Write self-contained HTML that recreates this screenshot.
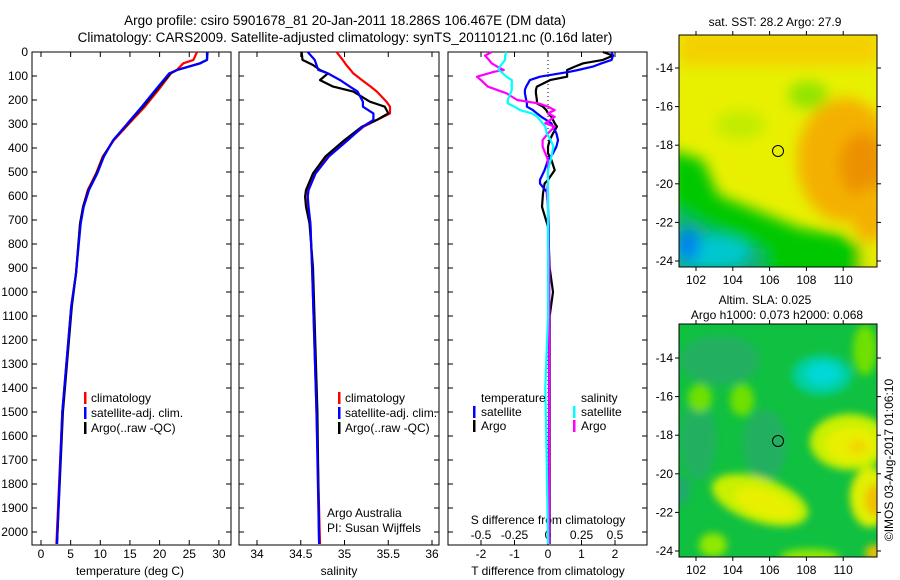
<!DOCTYPE html>
<html><head><meta charset="utf-8">
<style>
body{margin:0;background:#fff;}
svg{display:block;font-family:"Liberation Sans",sans-serif;}
text{fill:#000;}
</style></head>
<body>
<svg id="c" width="900" height="580" viewBox="0 0 900 580" xmlns="http://www.w3.org/2000/svg">
<defs>
<filter id="bl" x="-50%" y="-50%" width="200%" height="200%"><feGaussianBlur stdDeviation="7"/></filter>
<filter id="bl2" x="-50%" y="-50%" width="200%" height="200%"><feGaussianBlur stdDeviation="4"/></filter>
<clipPath id="m1"><rect x="679" y="35" width="198" height="232"/></clipPath>
<clipPath id="m2"><rect x="679" y="324" width="198" height="233"/></clipPath>
</defs>
<text x="345" y="25" font-size="13.5" text-anchor="middle">Argo profile: csiro 5901678_81 20-Jan-2011 18.286S 106.467E (DM data)</text>
<text x="345" y="42" font-size="13.5" text-anchor="middle">Climatology: CARS2009. Satellite-adjusted climatology: synTS_20110121.nc (0.16d later)</text>

<!-- SST map -->
<g clip-path="url(#m1)">
<rect x="679" y="35" width="198" height="232" fill="#e8f000"/>
<g filter="url(#bl)">
<rect x="679" y="30" width="200" height="35" fill="#f4d000"/>
<ellipse cx="845" cy="160" rx="48" ry="62" fill="#f4b000"/>
<ellipse cx="862" cy="165" rx="22" ry="32" fill="#ec9000"/>
<ellipse cx="870" cy="215" rx="18" ry="28" fill="#f4b000"/>
<ellipse cx="808" cy="95" rx="20" ry="14" fill="#90e400"/>
<ellipse cx="740" cy="125" rx="25" ry="14" fill="#c0ec00"/>
<polygon points="670,150 703,160 718,195 760,212 800,228 840,234 862,248 862,290 670,290" fill="#00c800"/>
<polygon points="670,205 700,222 740,243 765,250 765,290 670,290" fill="#10b070"/>
<ellipse cx="712" cy="252" rx="38" ry="16" fill="#00c8d0"/>
<ellipse cx="688" cy="245" rx="12" ry="16" fill="#0080f0"/>
<ellipse cx="875" cy="262" rx="14" ry="12" fill="#e8e800"/>
</g>
</g>
<rect x="679" y="35" width="198" height="232" fill="none" stroke="#000"/>
<circle cx="778" cy="151" r="5.5" fill="none" stroke="#000"/>
<text x="775" y="26" font-size="12" text-anchor="middle">sat. SST: 28.2 Argo: 27.9</text>

<!-- SLA map -->
<g clip-path="url(#m2)">
<rect x="679" y="324" width="198" height="233" fill="#10c040"/>
<g filter="url(#bl2)">
<ellipse cx="720" cy="360" rx="40" ry="25" fill="#20b060"/>
<ellipse cx="765" cy="445" rx="22" ry="35" fill="#20b060"/>
<ellipse cx="698" cy="440" rx="18" ry="40" fill="#20b060"/>
<ellipse cx="822" cy="375" rx="30" ry="20" fill="#00d0a0"/>
<ellipse cx="823" cy="374" rx="17" ry="11" fill="#00d8d8"/>
<ellipse cx="850" cy="442" rx="40" ry="28" fill="#c8f000"/>
<ellipse cx="852" cy="445" rx="26" ry="18" fill="#e8f000"/>
<ellipse cx="858" cy="447" rx="10" ry="8" fill="#f0d800"/>
<ellipse cx="760" cy="500" rx="50" ry="22" fill="#c8f000" transform="rotate(18 760 500)"/>
<ellipse cx="765" cy="503" rx="32" ry="13" fill="#e8f000" transform="rotate(18 765 503)"/>
<ellipse cx="870" cy="497" rx="20" ry="30" fill="#e0f000"/>
<ellipse cx="875" cy="500" rx="10" ry="16" fill="#f0c000"/>
<ellipse cx="700" cy="398" rx="12" ry="14" fill="#70e000"/>
<ellipse cx="742" cy="400" rx="12" ry="16" fill="#70e000"/>
<ellipse cx="713" cy="545" rx="14" ry="12" fill="#90e800"/>
<ellipse cx="865" cy="350" rx="12" ry="25" fill="#70e000"/>
<ellipse cx="875" cy="553" rx="10" ry="8" fill="#f0c000"/>
<ellipse cx="810" cy="557" rx="30" ry="8" fill="#90e800"/>
<ellipse cx="682" cy="490" rx="8" ry="14" fill="#20a870"/>
</g>
</g>
<rect x="679" y="324" width="198" height="233" fill="none" stroke="#000"/>
<circle cx="778" cy="441" r="5.5" fill="none" stroke="#000"/>
<text x="765" y="304" font-size="12" text-anchor="middle">Altim. SLA: 0.025</text>
<text x="777" y="319" font-size="12" text-anchor="middle">Argo h1000: 0.073 h2000: 0.068</text>
<text transform="translate(893,460) rotate(-90)" font-size="12" text-anchor="middle">©IMOS 03-Aug-2017 01:06:10</text>

<g id="plots"></g>
</svg>
<script>
// ---------- data ----------
const tDepth = [0, 33, 47, 75, 89, 158, 228, 297, 367, 436, 506, 575, 645, 714, 923, 1061, 1500, 2050];
const tArgo  = [28.0, 28.0, 26.8, 22.9, 21.8, 19.5, 17.2, 14.7, 12.2, 10.5, 9.4, 8.0, 7.1, 6.6, 5.9, 5.2, 3.7, 2.7];
const tSat   = [28.1, 28.0, 26.9, 23.0, 21.6, 19.3, 17.0, 14.6, 12.2, 10.6, 9.5, 8.1, 7.2, 6.7, 5.9, 5.1, 3.6, 2.7];
const tClim  = [26.3, 25.7, 24.0, 22.9, 21.9, 19.8, 17.5, 14.9, 12.3, 10.4, 9.3, 7.9, 7.1, 6.6, 5.9, 5.1, 3.6, 2.6];

const sDepth = [0, 33, 54, 75, 89, 117, 144, 165, 207, 228, 256, 283, 311, 367, 436, 506, 575, 603, 645, 714, 900, 1500, 2050];
const sClim  = [34.91, 34.98, 35.02, 35.07, 35.10, 35.20, 35.30, 35.37, 35.48, 35.52, 35.52, 35.37, 35.22, 35.03, 34.80, 34.66, 34.58, 34.58, 34.58, 34.61, 34.63, 34.68, 34.72];
const sArgo  = [34.51, 34.52, 34.64, 34.72, 34.81, 34.72, 34.87, 35.10, 35.29, 35.46, 35.50, 35.37, 35.20, 35.00, 34.78, 34.64, 34.56, 34.55, 34.56, 34.60, 34.64, 34.69, 34.71];
const sSat   = [34.58, 34.66, 34.68, 34.70, 34.81, 34.95, 35.06, 35.15, 35.21, 35.21, 35.33, 35.33, 35.21, 35.04, 34.82, 34.67, 34.59, 34.58, 34.59, 34.61, 34.63, 34.68, 34.71];

const dDepth = [0, 15, 33, 47, 61, 75, 82, 103, 117, 144, 158, 172, 200, 214, 228, 242, 256, 270, 297, 311, 339, 367, 394, 422, 450, 492, 533, 548, 589, 645, 728, 900, 1000, 1100, 1400, 1700, 2050];
const dTArgo = [1.64, 1.94, 1.64, 1.05, 0.8, 0.57, 0.57, 0.57, 0.06, -0.33, -0.36, -0.36, -0.33, -0.33, -0.15, -0.05, 0.0, 0.1, 0.2, 0.27, 0.15, 0.05, 0.0, 0.0, 0.1, 0.2, 0.0, -0.1, -0.15, -0.18, 0.0, 0.05, 0.15, 0.05, 0.05, 0.05, 0.05];
const dTSat  = [1.9, 1.94, 1.9, 1.6, 1.34, 0.9, 0.66, -0.24, -0.54, -0.65, -0.69, -0.69, -0.65, -0.63, -0.63, -0.45, -0.33, -0.2, 0.1, 0.15, 0.25, 0.3, 0.25, 0.15, 0.0, -0.1, -0.24, -0.24, 0.0, 0.0, 0.02, 0.03, 0.03, 0.03, 0.03, 0.03, 0.03];
const dSSat  = [-0.31, -0.32, -0.32, -0.34, -0.36, -0.37, -0.35, -0.31, -0.27, -0.27, -0.27, -0.28, -0.3, -0.3, -0.25, -0.21, -0.12, -0.08, -0.04, -0.02, -0.01, 0.02, 0.04, 0.03, 0.02, 0.0, 0.0, 0.0, 0.0, 0.0, 0.0, 0.0, 0.0, 0.0, -0.02, -0.01, 0.0];
const dSArgo = [-0.42, -0.47, -0.44, -0.42, -0.38, -0.33, -0.4, -0.53, -0.5, -0.45, -0.38, -0.31, -0.23, -0.07, 0.0, 0.05, 0.0, 0.05, -0.02, 0.05, 0.0, -0.04, -0.04, -0.02, 0.0, 0.0, 0.0, 0.0, -0.01, 0.0, 0.0, 0.01, 0.01, 0.01, 0.01, 0.01, 0.01];

const depthTicks = [0,100,200,300,400,500,600,700,800,900,1000,1100,1200,1300,1400,1500,1600,1700,1800,1900,2000];
const tTicks = [0,5,10,15,20,25,30];
const sTicks = [34,34.5,35,35.5,36];
const dTTicks = [-2,-1,0,1,2];
const dSTicks = [-0.5,-0.25,0,0.25,0.5];
const dSLabels = ['-0.5','-0.25','0','0.25','0.5'];
const lonTicks = [102,104,106,108,110];
const latTicks = [-14,-16,-18,-20,-22,-24];

// ---------- axis functions ----------
const TOP=52, BOT=545;
const yD = d => TOP + d*0.24;
const xT = t => 41 + t*5.93;
const xS = s => 257 + (s-34)*87.5;
const xDT = v => 548 + v*33.5;
const xDS = v => 548 + v*134;
const xLon = l => 696 + (l-102)*18.4;
const yLat1 = l => 68 + (-14-l)*19.3;
const yLat2 = l => 358 + (-14-l)*19.3;

const NS='http://www.w3.org/2000/svg';
const g=document.getElementById('plots');
function el(tag, at, parent){const e=document.createElementNS(NS,tag);for(const k in at)e.setAttribute(k,at[k]);(parent||g).appendChild(e);return e;}
function txt(x,y,s,anchor,size,name){const e=el('text',{x:x,y:y,'font-size':size||12,'text-anchor':anchor||'middle'});e.textContent=s;


return e;}
function line(xs, ds, fx, color, name){
  const pts = xs.map((v,i)=>fx(v).toFixed(1)+','+yD(ds[i]).toFixed(1)).join(' ');
  const p=el('polyline',{points:pts,fill:'none',stroke:color,'stroke-width':2.2,'stroke-linejoin':'round'});
  
  
}
function frame(x0,x1,name){
  const r=el('rect',{x:x0,y:TOP,width:x1-x0,height:BOT-TOP,fill:'none',stroke:'#000'});
  
  
  depthTicks.forEach(d=>{el('line',{x1:x0,x2:x0+5,y1:yD(d),y2:yD(d),stroke:'#000'});el('line',{x1:x1,x2:x1-5,y1:yD(d),y2:yD(d),stroke:'#000'});});
}
function xticks(vals, f, labels, y, name){
  vals.forEach((v,i)=>{const x=f(v);el('line',{x1:x,x2:x,y1:BOT,y2:BOT-5,stroke:'#000'});el('line',{x1:x,x2:x,y1:TOP,y2:TOP+5,stroke:'#000'});
    txt(x,y,labels?labels[i]:String(v),'middle',12,name);});
}
function legendMark(x,y,color,name){const r=el('rect',{x:x,y:y-10,width:2.5,height:12,fill:color});

}

// panel 1: temperature
frame(32,231,'temperature-panel');
depthTicks.forEach(d=>txt(28,yD(d)+4,String(d),'end',12,'depth-tick-label'));
xticks(tTicks,xT,null,558,'temperature-tick-label');
txt(130,575,'temperature (deg C)','middle',12,'temperature-axis-title');
line(tClim,tDepth,xT,'#f00','temperature-climatology-line');
line(tArgo,tDepth,xT,'#000','temperature-argo-line');
line(tSat,tDepth,xT,'#00f','temperature-satellite-line');
[['#f00','climatology'],['#00f','satellite-adj. clim.'],['#000','Argo(..raw -QC)']].forEach((l,i)=>{
  legendMark(84,402+i*15,l[0],'temperature-legend-marker');txt(91,402+i*15,l[1],'start',12,'temperature-legend-entry');});

// panel 2: salinity
frame(239,439,'salinity-panel');
xticks(sTicks,xS,null,558,'salinity-tick-label');
txt(339,575,'salinity','middle',12,'salinity-axis-title');
line(sClim,sDepth,xS,'#f00','salinity-climatology-line');
line(sArgo,sDepth,xS,'#000','salinity-argo-line');
line(sSat,sDepth,xS,'#00f','salinity-satellite-line');
[['#f00','climatology'],['#00f','satellite-adj. clim.'],['#000','Argo(..raw -QC)']].forEach((l,i)=>{
  legendMark(338,402+i*15,l[0],'salinity-legend-marker');txt(345,402+i*15,l[1],'start',12,'salinity-legend-entry');});
txt(327,517,'Argo Australia','start',12,'credit-argo-australia');
txt(327,532,'PI: Susan Wijffels','start',12,'credit-pi');

// panel 3: differences
frame(448,647,'difference-panel');
xticks(dTTicks,xDT,null,558,'t-diff-tick-label');
dSTicks.forEach((v,i)=>txt(xDS(v),539,dSLabels[i],'middle',12,'s-diff-tick-label'));
txt(548,524,'S difference from climatology','middle',12,'s-diff-axis-title');
txt(548,575,'T difference from climatology','middle',12,'t-diff-axis-title');
for(let y=TOP;y<BOT;y+=4){el('rect',{x:xDT(0)-0.5,y:y,width:1,height:1,fill:'#000'});}
line(dTArgo,dDepth,xDT,'#000','t-diff-argo-line');
line(dTSat,dDepth,xDT,'#00f','t-diff-satellite-line');
line(dSArgo,dDepth,xDS,'#f0f','s-diff-argo-line');
line(dSSat,dDepth,xDS,'#0ff','s-diff-satellite-line');
txt(481,402,'temperature','start',12,'diff-legend-temperature-heading');
txt(581,402,'salinity','start',12,'diff-legend-salinity-heading');
legendMark(473,416,'#00f','diff-legend-marker');txt(481,416,'satellite','start',12,'diff-legend-entry');
legendMark(473,430,'#000','diff-legend-marker');txt(481,430,'Argo','start',12,'diff-legend-entry');
legendMark(573,416,'#0ff','diff-legend-marker');txt(581,416,'satellite','start',12,'diff-legend-entry');
legendMark(573,430,'#f0f','diff-legend-marker');txt(581,430,'Argo','start',12,'diff-legend-entry');

// map axes
[[35,267,yLat1,'sst'],[324,557,yLat2,'sla']].forEach(m=>{
  lonTicks.forEach(l=>{const x=xLon(l);el('line',{x1:x,x2:x,y1:m[1],y2:m[1]+4,stroke:'#000'});el('line',{x1:x,x2:x,y1:m[0],y2:m[0]-4,stroke:'#000'});
    txt(x,m[1]+17,String(l),'middle',12,m[3]+'-lon-tick-label');});
  latTicks.forEach(l=>{const y=m[2](l);el('line',{x1:679,x2:675,y1:y,y2:y,stroke:'#000'});el('line',{x1:877,x2:881,y1:y,y2:y,stroke:'#000'});
    txt(673,y+4,String(l),'end',12,m[3]+'-lat-tick-label');});
});
</script>
</body></html>
